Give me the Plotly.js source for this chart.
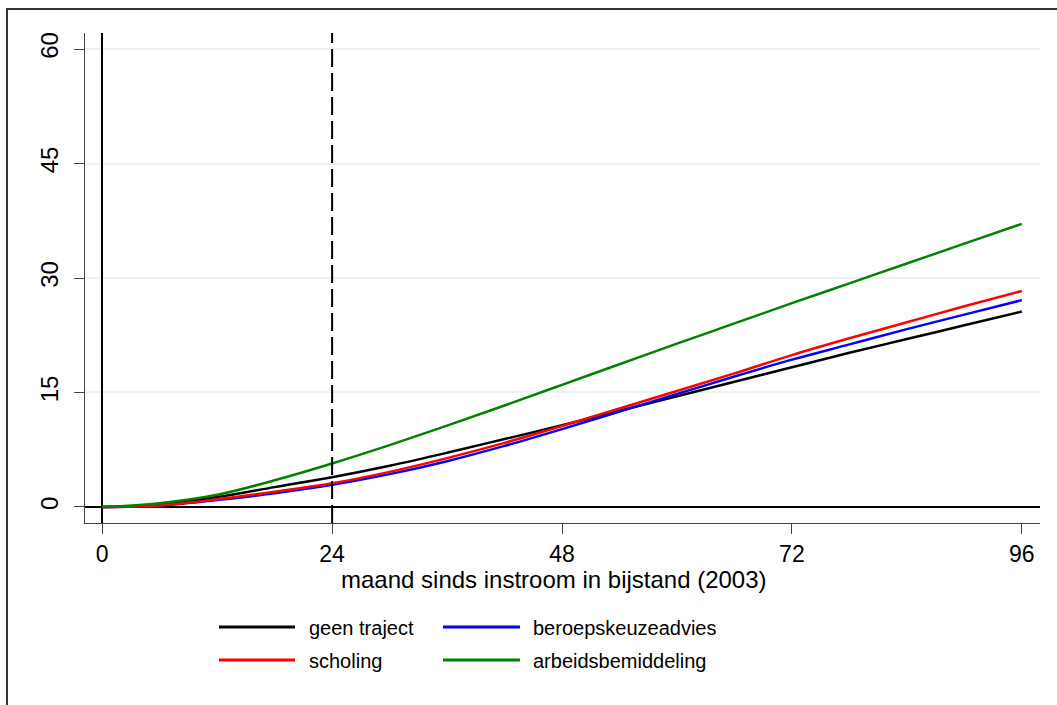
<!DOCTYPE html>
<html><head><meta charset="utf-8">
<script src="https://cdn.plot.ly/plotly-3.0.1.min.js"></script>
<style>html,body{margin:0;padding:0;background:#fff}#chart{width:1057px;height:705px}</style>
</head><body><div id="chart"></div>
<script>
// Data
const months = [0, 6, 12, 18, 24, 30, 36, 42, 48, 54, 60, 66, 72, 78, 84, 90, 96];
const geenTraject        = [0, 0.3, 1.3, 2.6, 3.9, 5.4, 7.1, 8.9, 10.7, 12.6, 14.5, 16.4, 18.3, 20.2, 22.0, 23.8, 25.6];
const beroepskeuzeadvies = [0, 0.2, 0.9, 1.8, 2.9, 4.3, 6.0, 8.0, 10.2, 12.5, 14.8, 17.1, 19.3, 21.3, 23.3, 25.2, 27.1];
const scholing           = [0, 0.2, 1.0, 2.0, 3.1, 4.6, 6.4, 8.4, 10.6, 12.9, 15.2, 17.5, 19.9, 22.1, 24.2, 26.3, 28.3];
const arbeidsbemiddeling = [0, 0.5, 1.6, 3.5, 5.7, 8.1, 10.65, 13.3, 16.0, 18.7, 21.4, 24.05, 26.7, 29.3, 31.9, 34.5, 37.1];
const seriesNames  = ["geen traject", "beroepskeuzeadvies", "scholing", "arbeidsbemiddeling"];
const seriesColors = ["#000000", "#0000ff", "#ff0000", "#008000"];
const xTicks = [0, 24, 48, 72, 96];
const yTicks = [0, 15, 30, 45, 60];
const dashedRef = 24;
const xTitle = "maand sinds instroom in bijstand (2003)";

const seriesValues = [geenTraject, beroepskeuzeadvies, scholing, arbeidsbemiddeling];
const drawOrder = [0, 1, 2, 3];

const W = 1057, H = 705;
const M = {l: 85, r: 17, t: 33, b: 182};
const pw = W - M.l - M.r, ph = H - M.t - M.b;
const px = x => (x - M.l) / pw;
const py = y => (H - M.b - y) / ph;

const FONT = "Liberation Sans, Arial, Helvetica, sans-serif";

const traces = drawOrder.map(i => ({
  x: months, y: seriesValues[i], type: "scatter", mode: "lines",
  name: seriesNames[i], line: {color: seriesColors[i], width: 2.5, shape: "spline", smoothing: 1},
  showlegend: false, hoverinfo: "skip"
}));

const shapes = [
  {type: "line", xref: "x", yref: "paper", x0: dashedRef, x1: dashedRef, y0: 0, y1: 1,
   line: {color: "#000", width: 2, dash: "18px,6px"}},
  {type: "rect", xref: "paper", yref: "paper", x0: px(7), x1: px(1075), y0: py(9), y1: py(730),
   line: {color: "#333", width: 2}, layer: "below"}
];
const annotations = [
  {xref: "paper", yref: "paper", x: px(554), y: py(579), xanchor: "center", yanchor: "middle",
   text: xTitle, showarrow: false, font: {family: FONT, size: 24, color: "#000"}}
];
// custom legend (2 columns)
const legendCols = [{l0: 219, l1: 295, t: 307}, {l0: 443, l1: 520, t: 531}];
const legendRows = [627, 660];
seriesNames.forEach((name, i) => {
  const c = legendCols[i % 2], r = legendRows[Math.floor(i / 2)];
  shapes.push({type: "line", xref: "paper", yref: "paper", x0: px(c.l0), x1: px(c.l1), y0: py(r), y1: py(r),
    line: {color: seriesColors[i], width: 3}});
  annotations.push({xref: "paper", yref: "paper", x: px(c.t), y: py(r + 1), xanchor: "left", yanchor: "middle",
    text: name, showarrow: false, font: {family: FONT, size: 20, color: "#000"}});
});

const layout = {
  width: W, height: H, margin: M, paper_bgcolor: "#fff", plot_bgcolor: "#fff",
  font: {family: FONT, size: 20, color: "#000"},
  showlegend: false,
  xaxis: {range: [-1.8, 97.9], tickvals: xTicks, ticktext: xTicks.map(String), ticks: "outside", ticklen: 10,
    tickwidth: 1, tickcolor: "#444", showline: true, linecolor: "#444", linewidth: 1, showgrid: false,
    zeroline: true, zerolinecolor: "#000", zerolinewidth: 2, mirror: false,
    tickfont: {family: FONT, size: 23}, ticklabelstandoff: 0},
  yaxis: {range: [-2.1, 62.1], tickvals: yTicks, ticktext: yTicks.map(String), ticks: "outside", ticklen: 10,
    tickwidth: 1, tickcolor: "#444", showline: true, linecolor: "#444", linewidth: 1, showgrid: true,
    gridcolor: "#eaf2f3", gridwidth: 2, zeroline: true, zerolinecolor: "#000", zerolinewidth: 2,
    tickangle: -90, tickfont: {family: FONT, size: 24}, ticklabelstandoff: 6},
  shapes: shapes, annotations: annotations
};
Plotly.newPlot("chart", traces, layout, {displayModeBar: false, staticPlot: true});
</script></body></html>
